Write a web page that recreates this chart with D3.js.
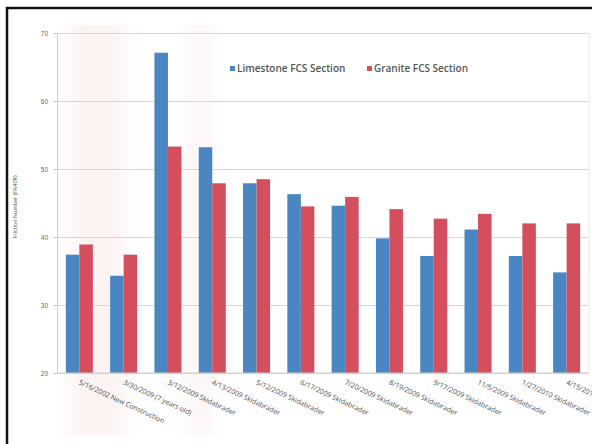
<!DOCTYPE html>
<html>
<head>
<meta charset="utf-8">
<script src="https://cdn.jsdelivr.net/npm/d3@7"></script>
<style>
  body { margin: 0; background: #fff; }
  svg { display: block; font-family: "Open Sans", Lato, sans-serif; }
</style>
</head>
<body>
<div id="chart"></div>
<script>
"use strict";

// Category labels along the x axis
const categories = [
  "5/16/2002 New Construction",
  "3/30/2009 (7 years old)",
  "3/12/2009 Skidabrader",
  "4/13/2009 Skidabrader",
  "5/12/2009 Skidabrader",
  "6/17/2009 Skidabrader",
  "7/20/2009 Skidabrader",
  "8/19/2009 Skidabrader",
  "9/17/2009 Skidabrader",
  "11/5/2009 Skidabrader",
  "1/27/2010 Skidabrader",
  "4/15/2010 Skidabrader"
];

// Friction numbers
const limestone = [37.4, 34.3, 67.1, 53.2, 47.9, 46.3, 44.6, 39.8, 37.2, 41.1, 37.2, 34.8];
const granite   = [38.9, 37.4, 53.3, 47.9, 48.5, 44.5, 45.9, 44.1, 42.7, 43.4, 42.0, 42.0];

const seriesNames = ["Limestone FCS Section", "Granite FCS Section"];
const yTicks = [20, 30, 40, 50, 60, 70];

const colors = ["#4a86c2", "#d44f5e"];

let width = 592, height = 444;
let margin = {top: 33, right: 3, bottom: 71, left: 57};

let svg = d3.select("#chart")
  .append("svg")
  .attr("width", width)
  .attr("height", height);

// faint scan tint in the background, soft edges
let defs = svg.append("defs");
let grad = defs.append("linearGradient").attr("id", "tint");
grad.append("stop").attr("offset", "0%").attr("stop-color", "#f8e4e4").attr("stop-opacity", 0);
grad.append("stop").attr("offset", "35%").attr("stop-color", "#f8e4e4").attr("stop-opacity", 0.45);
grad.append("stop").attr("offset", "65%").attr("stop-color", "#f8e4e4").attr("stop-opacity", 0.45);
grad.append("stop").attr("offset", "100%").attr("stop-color", "#f8e4e4").attr("stop-opacity", 0);

svg.append("rect")
  .attr("x", 55).attr("y", 25).attr("width", 85).attr("height", 410)
  .attr("fill", "url(#tint)");
svg.append("rect")
  .attr("x", 175).attr("y", 25).attr("width", 50).attr("height", 410)
  .attr("fill", "url(#tint)").attr("opacity", 0.6);

// black frame of the scanned page
svg.append("path")
  .attr("d", `M7,${height} V8 H${width}`)
  .attr("fill", "none")
  .attr("stroke", "#111")
  .attr("stroke-width", 2.5);

let plotW = width - margin.left - margin.right;
let plotH = height - margin.top - margin.bottom;

let g = svg.append("g")
  .attr("transform", `translate(${margin.left},${margin.top})`);

let x0 = d3.scaleBand()
  .domain(categories)
  .range([0, plotW])
  .paddingInner(0.39)
  .paddingOuter(0.2);

let x1 = d3.scaleBand()
  .domain(seriesNames)
  .range([0, x0.bandwidth()]);

let y = d3.scaleLinear().domain([20, 70]).range([plotH, 0]);

// Y gridlines
g.append("g")
  .attr("class", "ygrid")
  .call(d3.axisLeft(y).tickValues(yTicks).tickSize(-plotW).tickFormat(""))
  .call(a => a.select(".domain").remove())
  .call(a => a.selectAll("line").attr("stroke", "#d9d6d6").attr("stroke-width", 1));

// plot right border
g.append("line")
  .attr("x1", plotW).attr("x2", plotW)
  .attr("y1", 0).attr("y2", plotH)
  .attr("stroke", "#ece8e8");

// Y axis
let yAxis = g.append("g")
  .call(d3.axisLeft(y).tickValues(yTicks).tickSize(4).tickPadding(5).tickFormat(d3.format("d")));
yAxis.select(".domain").attr("stroke", "#cfcccc");
yAxis.selectAll("line").attr("stroke", "#cfcccc");
yAxis.selectAll("text")
  .attr("fill", "#6a6a6a")
  .style("font-size", "6.5px");

// Bars
let data = categories.map((c, i) => ({cat: c, vals: [limestone[i], granite[i]]}));

let groups = g.selectAll(".grp")
  .data(data)
  .enter()
  .append("g")
  .attr("class", "grp")
  .attr("transform", d => `translate(${x0(d.cat)},0)`);

groups.selectAll("rect")
  .data(d => d.vals.map((v, k) => ({name: seriesNames[k], v: v, k: k})))
  .enter()
  .append("rect")
  .attr("x", d => x1(d.name))
  .attr("width", x1.bandwidth())
  .attr("y", d => y(d.v))
  .attr("height", d => plotH - y(d.v))
  .attr("fill", d => colors[d.k]);

// X axis line
g.append("line")
  .attr("x1", 0).attr("x2", plotW)
  .attr("y1", plotH).attr("y2", plotH)
  .attr("stroke", "#cfcccc");

// X labels, rotated (last one runs off the page as in the scan)
g.append("g")
  .selectAll("text")
  .data(categories)
  .enter()
  .append("text")
  .attr("transform", c => `translate(${x0(c) + x0.bandwidth() / 2 - 1},${plotH + 11}) rotate(25)`)
  .attr("text-anchor", "start")
  .attr("fill", "#505050")
  .style("font-size", "7px")
  .text(c => c);

// Y axis title
svg.append("text")
  .attr("transform", "translate(17,207) rotate(-90)")
  .attr("text-anchor", "middle")
  .attr("fill", "#555")
  .style("font-size", "5.5px")
  .text("Friction Number (FN40R)");

// Legend
let legend = svg.append("g").attr("transform", "translate(230,72)");
let legX = [0, 137];
seriesNames.forEach((name, k) => {
  legend.append("rect")
    .attr("x", legX[k]).attr("y", -6)
    .attr("width", 5).attr("height", 5)
    .attr("fill", colors[k]);
  legend.append("text")
    .attr("x", legX[k] + 7).attr("y", 0)
    .attr("fill", "#555")
    .style("font-size", "10px")
    .style("font-weight", "600")
    .text(name);
});
</script>
</body>
</html>
